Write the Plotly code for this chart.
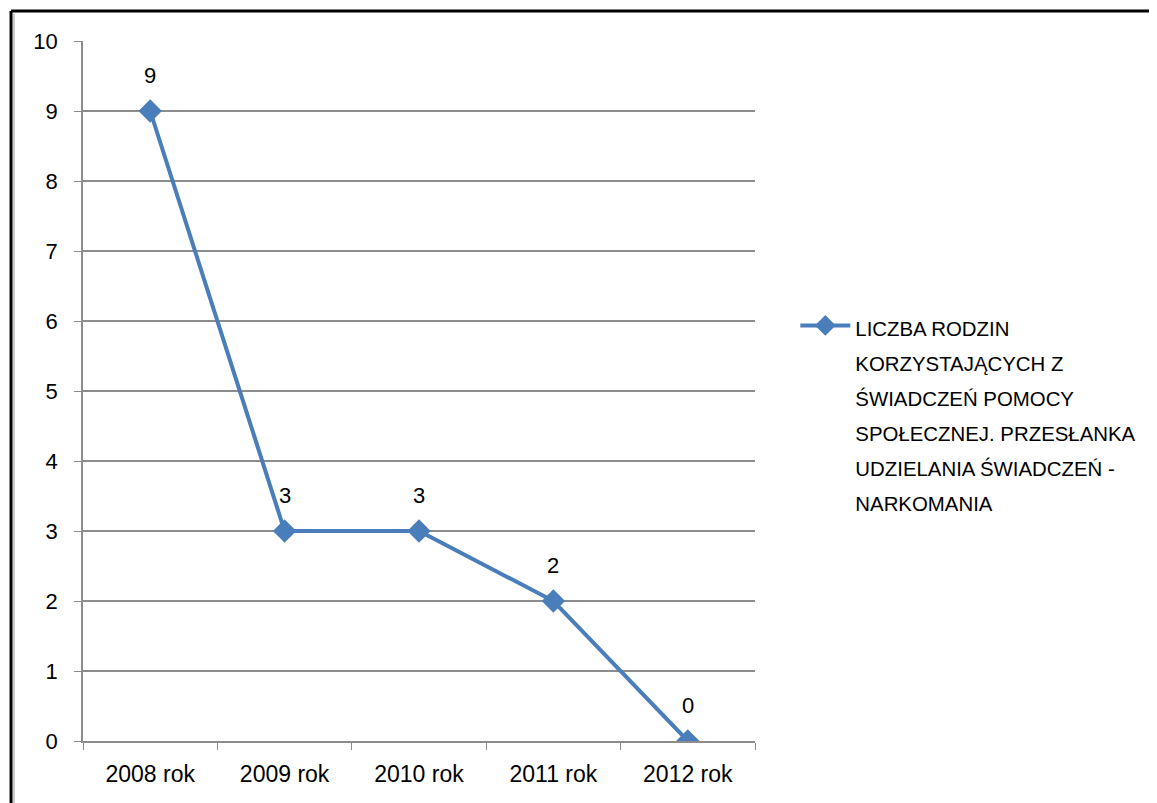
import plotly.graph_objects as go

# === DANE ===
lata = ["2008 rok", "2009 rok", "2010 rok", "2011 rok", "2012 rok"]
liczba_rodzin = [9, 3, 3, 2, 0]
linie_legendy = ["LICZBA RODZIN", "KORZYSTAJĄCYCH Z", "ŚWIADCZEŃ POMOCY",
                 "SPOŁECZNEJ. PRZESŁANKA", "UDZIELANIA ŚWIADCZEŃ -", "NARKOMANIA"]

NIEBIESKI = "#4A7EBB"
SZARY = "#8c8c8c"
FONT = "Liberation Sans"

# większy font legendy = większy odstęp wierszy, sam tekst mniejszy
nazwa_serii = "<br>".join(f'<span style="font-size:20.4px">{s}</span>' for s in linie_legendy)

fig = go.Figure()
fig.add_trace(go.Scatter(
    x=lata, y=liczba_rodzin,
    mode="lines+markers",
    name=nazwa_serii,
    line=dict(color=NIEBIESKI, width=4),
    marker=dict(symbol="diamond", size=18, color=NIEBIESKI),
))

# etykiety danych nad punktami
for rok, v in zip(lata, liczba_rodzin):
    fig.add_annotation(x=rok, y=v, text=str(v), showarrow=False,
                       yshift=36, font=dict(size=22, color="black", family=FONT))

# ramka obrazka (lewa i górna krawędź)
fig.add_shape(type="line", xref="paper", yref="paper",
              x0=-0.1071, x1=1.65, y0=1.0429, y1=1.0429,
              line=dict(color="black", width=3))
fig.add_shape(type="line", xref="paper", yref="paper",
              x0=-0.1071, x1=-0.1071, y0=-0.2, y1=1.0429,
              line=dict(color="black", width=3))
fig.add_shape(type="line", xref="paper", yref="paper",
              x0=-0.1027, x1=-0.1027, y0=-0.2, y1=1.039,
              line=dict(color="#999999", width=1))

fig.update_layout(
    width=1149, height=795,
    margin=dict(l=75, r=402, t=33, b=62),
    plot_bgcolor="white", paper_bgcolor="white",
    font=dict(family=FONT, size=23, color="black"),
    showlegend=True,
    legend=dict(x=1.06, y=0.628, xanchor="left", yanchor="top",
                valign="top", itemwidth=50,
                font=dict(size=27, family=FONT)),
    xaxis=dict(type="category", range=[-0.5, 4.5],
               showline=True, linecolor=SZARY, linewidth=1.5,
               ticks="outside", tickson="boundaries", ticklen=7,
               tickcolor=SZARY, showgrid=False,
               ticklabelstandoff=12),
    yaxis=dict(range=[0, 10], dtick=1, showgrid=True, gridcolor=SZARY,
               gridwidth=1.5, showline=True, linecolor=SZARY, linewidth=1.5,
               ticks="outside", ticklen=7, tickcolor=SZARY,
               tickfont=dict(size=22),
               zeroline=False, ticklabelstandoff=12),
)

fig.write_html("out.html")
